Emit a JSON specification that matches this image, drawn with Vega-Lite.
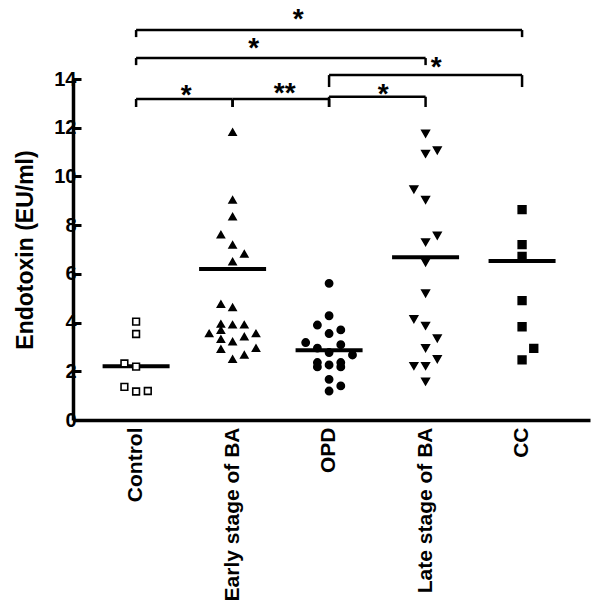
{
  "$schema": "https://vega.github.io/schema/vega-lite/v6.json",
  "width": 517,
  "height": 341,
  "autosize": {"type": "none"},
  "padding": {"left": 73, "top": 79, "right": 10, "bottom": 190},
  "background": "white",
  "config": {
    "view": {"stroke": null},
    "font": "Liberation Sans",
    "axisX": {"domainColor": "black", "domainWidth": 3.5, "ticks": false, "labelAngle": -90, "labelAlign": "right", "labelBaseline": "middle", "labelFont": "Liberation Sans", "labelFontSize": 21, "labelFontWeight": "bold", "labelColor": "black", "labelPadding": 7, "grid": false},
    "axisY": {"domainColor": "black", "domainWidth": 3.5, "tickColor": "black", "tickWidth": 3, "tickSize": -8, "labelFont": "Liberation Sans", "labelFontSize": 20, "labelFontWeight": "bold", "labelColor": "black", "labelPadding": 5, "titleFont": "Liberation Sans", "titleFontSize": 23, "titleFontWeight": "bold", "titleColor": "black", "titlePadding": 16, "grid": false}
  },
  "datasets": {
    "points": [
      {"group": "Control", "value": 4.04, "slot": 0},
      {"group": "Control", "value": 3.53, "slot": 0},
      {"group": "Control", "value": 2.32, "slot": -1},
      {"group": "Control", "value": 2.19, "slot": 0},
      {"group": "Control", "value": 1.36, "slot": -1},
      {"group": "Control", "value": 1.17, "slot": 0},
      {"group": "Control", "value": 1.19, "slot": 1},
      {"group": "Early stage of BA", "value": 11.82, "slot": 0},
      {"group": "Early stage of BA", "value": 9.04, "slot": 0},
      {"group": "Early stage of BA", "value": 8.35, "slot": 0},
      {"group": "Early stage of BA", "value": 7.61, "slot": -1},
      {"group": "Early stage of BA", "value": 7.19, "slot": 0},
      {"group": "Early stage of BA", "value": 6.82, "slot": 1},
      {"group": "Early stage of BA", "value": 6.5, "slot": 0},
      {"group": "Early stage of BA", "value": 4.76, "slot": -1},
      {"group": "Early stage of BA", "value": 4.62, "slot": 0},
      {"group": "Early stage of BA", "value": 3.94, "slot": -1},
      {"group": "Early stage of BA", "value": 3.91, "slot": 0},
      {"group": "Early stage of BA", "value": 3.91, "slot": 1},
      {"group": "Early stage of BA", "value": 3.69, "slot": -1},
      {"group": "Early stage of BA", "value": 3.55, "slot": -2},
      {"group": "Early stage of BA", "value": 3.55, "slot": 2},
      {"group": "Early stage of BA", "value": 3.42, "slot": 1},
      {"group": "Early stage of BA", "value": 3.32, "slot": -1},
      {"group": "Early stage of BA", "value": 3.22, "slot": 0},
      {"group": "Early stage of BA", "value": 2.95, "slot": 2},
      {"group": "Early stage of BA", "value": 2.91, "slot": -1},
      {"group": "Early stage of BA", "value": 2.67, "slot": 1},
      {"group": "Early stage of BA", "value": 2.5, "slot": 0},
      {"group": "OPD", "value": 5.61, "slot": 0},
      {"group": "OPD", "value": 4.28, "slot": 0},
      {"group": "OPD", "value": 3.9, "slot": -1},
      {"group": "OPD", "value": 3.7, "slot": 1},
      {"group": "OPD", "value": 3.55, "slot": 0},
      {"group": "OPD", "value": 3.18, "slot": -2},
      {"group": "OPD", "value": 3.09, "slot": 1},
      {"group": "OPD", "value": 2.95, "slot": -1},
      {"group": "OPD", "value": 2.77, "slot": 0},
      {"group": "OPD", "value": 2.67, "slot": 2},
      {"group": "OPD", "value": 2.36, "slot": -1},
      {"group": "OPD", "value": 2.18, "slot": -1},
      {"group": "OPD", "value": 2.26, "slot": 0},
      {"group": "OPD", "value": 2.36, "slot": 1},
      {"group": "OPD", "value": 2.18, "slot": 1},
      {"group": "OPD", "value": 1.67, "slot": 0},
      {"group": "OPD", "value": 1.19, "slot": 0},
      {"group": "OPD", "value": 1.4, "slot": 1},
      {"group": "Late stage of BA", "value": 11.76, "slot": 0},
      {"group": "Late stage of BA", "value": 11.07, "slot": 1},
      {"group": "Late stage of BA", "value": 10.93, "slot": 0},
      {"group": "Late stage of BA", "value": 9.47, "slot": -1},
      {"group": "Late stage of BA", "value": 9.04, "slot": 0},
      {"group": "Late stage of BA", "value": 7.57, "slot": 1},
      {"group": "Late stage of BA", "value": 7.3, "slot": 0},
      {"group": "Late stage of BA", "value": 6.47, "slot": 0},
      {"group": "Late stage of BA", "value": 5.2, "slot": 0},
      {"group": "Late stage of BA", "value": 4.14, "slot": -1},
      {"group": "Late stage of BA", "value": 3.87, "slot": 0},
      {"group": "Late stage of BA", "value": 3.35, "slot": 1},
      {"group": "Late stage of BA", "value": 2.95, "slot": 0},
      {"group": "Late stage of BA", "value": 2.5, "slot": 1},
      {"group": "Late stage of BA", "value": 2.22, "slot": -1},
      {"group": "Late stage of BA", "value": 2.22, "slot": 0},
      {"group": "Late stage of BA", "value": 1.58, "slot": 0},
      {"group": "CC", "value": 8.64, "slot": 0},
      {"group": "CC", "value": 7.2, "slot": 0},
      {"group": "CC", "value": 6.72, "slot": 0},
      {"group": "CC", "value": 4.9, "slot": 0},
      {"group": "CC", "value": 3.83, "slot": 0},
      {"group": "CC", "value": 2.94, "slot": 1},
      {"group": "CC", "value": 2.47, "slot": 0}
    ],
    "medians": [
      {"group": "Control", "value": 2.21},
      {"group": "Early stage of BA", "value": 6.2},
      {"group": "OPD", "value": 2.86},
      {"group": "Late stage of BA", "value": 6.68},
      {"group": "CC", "value": 6.53}
    ],
    "brackets": [
      {"from": "Control", "to": "CC", "y": 16.01, "yLeg": 15.72},
      {"from": "Control", "to": "Late stage of BA", "y": 14.86, "yLeg": 14.57},
      {"from": "OPD", "to": "CC", "y": 14.16, "yLeg": 13.67},
      {"from": "Control", "to": "Early stage of BA", "y": 13.18, "yLeg": 12.85},
      {"from": "Early stage of BA", "to": "OPD", "y": 13.18, "yLeg": 12.85},
      {"from": "OPD", "to": "Late stage of BA", "y": 13.27, "yLeg": 12.85}
    ],
    "stars": [
      {"anchor": "OPD", "shift": -0.32, "y": 16.76, "label": "*"},
      {"anchor": "Early stage of BA", "shift": 0.22, "y": 15.57, "label": "*"},
      {"anchor": "Late stage of BA", "shift": 0.11, "y": 14.78, "label": "*"},
      {"anchor": "Control", "shift": 0.52, "y": 13.63, "label": "*"},
      {"anchor": "Early stage of BA", "shift": 0.54, "y": 13.71, "label": "**"},
      {"anchor": "OPD", "shift": 0.56, "y": 13.67, "label": "*"}
    ]
  },
  "layer": [
    {
      "data": {"name": "brackets"},
      "mark": {"type": "rule", "color": "black", "strokeWidth": 2.5},
      "encoding": {
        "x": {"field": "from", "type": "nominal", "title": null, "scale": {"domain": ["Control", "Early stage of BA", "OPD", "Late stage of BA", "CC"], "paddingInner": 0, "paddingOuter": 0.179, "align": 0.43}},
        "x2": {"field": "to"},
        "y": {"field": "y", "type": "quantitative", "title": "Endotoxin (EU/ml)", "scale": {"domain": [0, 14], "nice": false}}
      }
    },
    {
      "data": {"name": "brackets"},
      "transform": [{"fold": ["from", "to"], "as": ["end", "grp"]}],
      "mark": {"type": "rule", "color": "black", "strokeWidth": 2.5},
      "encoding": {
        "x": {"field": "grp", "type": "nominal", "title": null, "scale": {"domain": ["Control", "Early stage of BA", "OPD", "Late stage of BA", "CC"], "paddingInner": 0, "paddingOuter": 0.179, "align": 0.43}},
        "y": {"field": "yLeg", "type": "quantitative", "title": "Endotoxin (EU/ml)", "scale": {"domain": [0, 14], "nice": false}},
        "y2": {"field": "y"}
      }
    },
    {
      "data": {"name": "stars"},
      "mark": {"type": "text", "color": "black", "font": "Liberation Sans", "fontWeight": "bold", "fontSize": 28, "baseline": "alphabetic", "align": "center", "dy": 16},
      "encoding": {
        "x": {"field": "anchor", "type": "nominal", "title": null, "scale": {"domain": ["Control", "Early stage of BA", "OPD", "Late stage of BA", "CC"], "paddingInner": 0, "paddingOuter": 0.179, "align": 0.43}},
        "xOffset": {"field": "shift", "type": "quantitative", "scale": {"domain": [-1, 1], "range": [-48.25, 144.75]}},
        "y": {"field": "y", "type": "quantitative", "title": "Endotoxin (EU/ml)", "scale": {"domain": [0, 14], "nice": false}},
        "text": {"field": "label"}
      }
    },
    {
      "data": {"name": "medians"},
      "mark": {"type": "tick", "color": "black", "orient": "horizontal", "size": 67, "thickness": 4, "opacity": 1},
      "encoding": {
        "x": {"field": "group", "type": "nominal", "title": null, "scale": {"domain": ["Control", "Early stage of BA", "OPD", "Late stage of BA", "CC"], "paddingInner": 0, "paddingOuter": 0.179, "align": 0.43}},
        "y": {"field": "value", "type": "quantitative", "title": "Endotoxin (EU/ml)", "scale": {"domain": [0, 14], "nice": false}}
      }
    },
    {
      "data": {"name": "points"},
      "mark": {"type": "point", "filled": false, "stroke": "black", "strokeWidth": 1.6, "opacity": 1},
      "encoding": {
        "x": {"field": "group", "type": "nominal", "title": null, "scale": {"domain": ["Control", "Early stage of BA", "OPD", "Late stage of BA", "CC"], "paddingInner": 0, "paddingOuter": 0.179, "align": 0.43}},
        "xOffset": {"field": "slot", "type": "quantitative", "scale": {"domain": [-2, 2], "range": [24.85, 71.65]}},
        "y": {"field": "value", "type": "quantitative", "title": "Endotoxin (EU/ml)", "scale": {"domain": [0, 14], "nice": false}, "axis": {"values": [0, 1, 2, 3, 4, 5, 6, 7, 8, 9, 10, 11, 12, 13, 14], "labelExpr": "datum.value % 2 === 0 ? datum.label : ''"}},
        "shape": {"field": "group", "type": "nominal", "legend": null, "scale": {"domain": ["Control", "Early stage of BA", "OPD", "Late stage of BA", "CC"], "range": ["square", "triangle-up", "circle", "triangle-down", "square"]}},
        "fill": {"field": "group", "type": "nominal", "legend": null, "scale": {"domain": ["Control", "Early stage of BA", "OPD", "Late stage of BA", "CC"], "range": ["white", "black", "black", "black", "black"]}},
        "size": {"field": "group", "type": "nominal", "legend": null, "scale": {"domain": ["Control", "Early stage of BA", "OPD", "Late stage of BA", "CC"], "range": [45, 60, 50, 50, 50]}}
      }
    }
  ],
  "resolve": {"scale": {"xOffset": "independent"}}
}
